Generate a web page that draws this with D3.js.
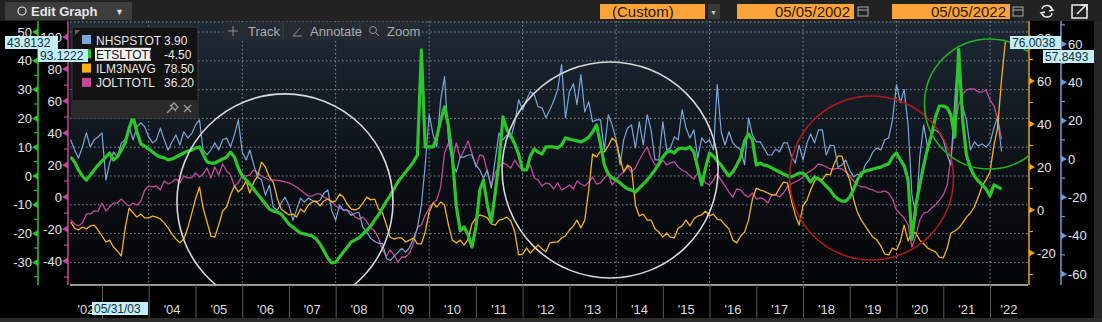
<!DOCTYPE html>
<html>
<head>
<meta charset="utf-8">
<script src="https://cdn.jsdelivr.net/npm/d3@7"></script>
<style>
  body { margin: 0; background: #000; overflow: hidden; }
  text { font-family: "Liberation Sans", Arial, sans-serif; }
</style>
</head>
<body>
<svg id="chart" width="1102" height="322"></svg>
<script>
// monthly series, first value = May 2002
const startMonth = new Date(2002, 4, 1);

const nhspstot = [
  10.0, 4.7, 0.5, 6.3, 13.6, 6.3, 10.0, 11.5, 13.6, -11.0,
  -2.1, 3.7, 1.0, 8.4, 10.0, 16.8, 10.0, 16.8, 18.9, 16.8,
  11.5, 8.4, 10.0, 16.2, 10.0, 4.7, 8.9, 12.6, 7.3, 14.2,
  11.0, 13.1, 17.8, 20.4, 4.7, 2.1, 4.7, 8.4, 4.7, 10.0,
  11.0, 6.3, 12.6, 20.4, 3.7, -0.5, 4.7, -3.1, -9.4, -11.0,
  -18.9, -13.6, -25.2, -26.7, -23.1, -19.9, -24.1, -32.0, -26.7, -20.4,
  -22.5, -20.4, -21.5, -22.5, -21.5, -17.8, -16.2, -26.7, -32.0, -24.1,
  -26.7, -26.7, -29.4, -28.3, -27.8, -35.6, -38.3, -41.4, -43.0, -44.0,
  -44.0, -51.9, -52.9, -50.8, -48.7, -46.6, -48.7, -46.1, -41.4, -36.2,
  -24.1, -3.1, 23.1, 12.6, 6.3, 30.9, 43.0, 10.0, -1.6, -6.8,
  1.0, 1.0, 2.1, 2.1, -3.1, -5.8, -10.0, -5.8, -15.2, -0.5,
  13.6, 10.0, 12.6, 11.0, 18.9, 30.9, 25.7, 30.9, 35.1, 33.5,
  27.3, 26.7, 21.5, 25.7, 30.4, 36.2, 49.3, 21.5, 35.1, 39.3,
  28.3, 44.0, 24.6, 29.9, 19.4, 20.4, 20.4, 4.7, 23.1, 17.8,
  10.0, -3.1, 10.0, 16.2, 17.8, 5.8, 19.4, 7.3, 23.1, 15.2,
  -0.5, -0.5, 19.4, 4.7, 5.8, 11.5, 10.0, 25.7, 16.2, 11.0,
  15.2, 0.5, 11.0, 8.4, 10.0, 4.7, 38.8, 14.2, 7.3, 14.2,
  8.4, 6.3, 4.7, -3.1, 21.5, 12.6, 8.9, 8.9, 5.8, 2.1,
  2.1, 5.2, 3.7, 8.4, 8.4, 1.6, -2.1, 7.3, -0.5, 8.4,
  13.1, 8.4, 15.2, 15.2, 2.1, 7.3, 6.8, -4.2, -3.1, -0.5,
  -5.8, -9.4, -7.9, -9.4, -3.1, -0.5, 3.7, 5.8, 4.7, 10.0,
  11.0, 20.4, 38.8, 29.4, 36.2, 17.8, -18.9, -29.4, 1.0, 17.8,
  5.8, 14.2, 15.2, 13.6, 10.0, 2.1, -3.1, 30.9, 57.8, 27.3,
  20.4, 4.7, 8.9, 6.8, 7.9, 6.3, 8.4, 16.2, 22.0, 3.9
];

const etsltotl = [
  6.6, 4.9, 2.1, 0, -1.4, 0.3, 2.1, 3.8, 5.2, 6.6,
  8.0, 5.6, 6.6, 9.0, 11.5, 16.7, 20.5, 15.3, 11.1, 10.4,
  9.4, 8.3, 7.3, 6.6, 6.3, 5.6, 5.9, 6.6, 7.3, 8.0,
  8.7, 9.0, 9.7, 10.1, 7.6, 4.9, 4.5, 4.5, 5.2, 5.9,
  6.6, 8.3, 6.6, 2.8, 0, -1.4, -2.8, -4.5, -6.3, -8.0,
  -9.7, -11.5, -12.2, -12.5, -13.2, -14.9, -16.7, -17.7, -18.8, -19.8,
  -20.1, -20.5, -20.8, -21.9, -23.6, -26.0, -28.5, -30.2, -29.9, -28.1,
  -26.4, -24.7, -22.9, -22.2, -21.5, -20.1, -18.8, -17.4, -15.3, -13.5,
  -11.1, -8.7, -6.9, -4.5, -2.1, -0.3, 1.4, 3.1, 4.9, 7.3,
  43.8, 10.1, 10.1, 10.1, 13.5, 19.4, 24.0, 17.4, 6.6, -10.4,
  -19.1, -17.7, -20.5, -24.7, -17.7, -4.9, -1.4, -10.1, -16.0, -5.9,
  4.9, 20.5, 16.0, 13.9, 11.1, 7.6, 2.1, 2.1, 6.9, 9.4,
  8.3, 7.6, 10.1, 10.1, 10.1, 9.7, 10.8, 13.2, 12.8, 12.5,
  12.2, 11.8, 12.5, 13.5, 15.3, 17.7, 11.1, 3.8, 0.7, -0.7,
  -1.4, -2.4, -3.5, -4.5, -4.9, -5.6, -4.2, -2.8, -1.4, 0.3,
  2.1, 4.2, 6.6, 8.3, 8.7, 8.0, 9.4, 9.7, 9.4, 10.1,
  8.3, 2.8, -3.1, 2.8, 8.0, 6.9, 5.2, 3.8, 1.7, 0,
  1.4, 3.8, 6.6, 12.2, 14.6, 12.5, 3.8, 4.5, 3.8, 3.5,
  2.8, 2.1, 1.4, 0.7, 0, -0.3, 0.3, 1.0, 1.0, -0.3,
  -2.1, -0.3, -1.0, -2.1, -3.5, -4.9, -6.9, -8.0, -8.7, -8.7,
  -7.3, -4.5, -1.4, 1.0, 1.7, 2.1, 2.4, 2.8, 3.1, 3.8,
  4.2, 6.6, 8.0, 5.6, 3.5, -1.4, -22.0, -10.0, -3.1, 3.8,
  9.7, 14.2, 20.5, 24.3, 24.3, 23.6, 21.2, 13.5, 44.0, 19.4,
  7.3, 2.8, 0, -1.7, -3.1, -4.5, -6.9, -3.1, -3.8, -4.5
];

const ilm3navg = [
  -5.6, -8.4, -9.3, -7.9, -8.8, -7.4, -7.0, -9.3, -12.1, -14.9,
  -14.0, -17.2, -19.1, -21.4, -8.4, 0.9, -1.4, -3.3, -1.9, -3.7,
  -3.7, -2.8, -3.3, -4.2, -6.0, -8.4, -11.2, -13.5, -15.3, -13.5,
  -8.4, -1.9, 5.1, 10.7, 0.9, -5.6, -12.1, -12.6, -7.0, -0.5,
  1.4, 7.0, 11.2, 8.4, 10.2, 13.5, 7.9, 13.0, 15.8, 22.3,
  20.0, 15.3, 13.0, 5.6, 0.5, -0.9, -2.3, -1.9, -3.3, 0.5,
  -0.9, 2.3, 3.7, 4.2, 1.9, 4.2, 5.1, 3.7, 4.2, 7.4,
  6.0, 2.8, 0.5, 0, 0.9, 3.3, 6.0, 4.7, 5.1, 0.5,
  -1.4, -7.0, -12.6, -13.5, -13.0, -13.0, -14.9, -14.0, -13.0, -15.8,
  -15.8, -10.2, -0.9, 3.3, 1.4, 3.7, 2.3, -7.0, -14.0, -15.3,
  -14.0, -16.3, -13.5, -6.5, -3.7, -2.3, -2.8, -3.7, -6.5, -7.0,
  -4.7, -4.2, -3.3, -5.1, -10.2, -20.9, -20.5, -17.7, -20.0, -18.1,
  -16.3, -18.1, -19.5, -15.3, -14.9, -14.9, -13.0, -12.1, -9.3, -7.4,
  -4.7, -8.4, -4.7, 9.3, 26.0, 24.7, 27.4, 27.0, 29.8, 33.5,
  31.6, 24.2, 17.7, 20.9, 19.5, 2.3, -2.8, -1.9, -4.7, -4.7,
  -8.8, -10.2, -12.6, -10.7, -12.6, -13.0, -8.4, -7.4, -4.7, -7.4,
  -4.2, -2.8, -2.3, -0.5, -2.8, -1.9, -4.2, -4.7, -7.0, -8.8,
  -14.0, -15.3, -12.1, -10.2, -4.7, 5.1, 10.2, 9.3, 8.8, 7.9,
  7.0, 7.0, 10.2, 13.0, 12.6, 4.7, -2.3, -7.0, 1.9, 4.7,
  9.3, 13.5, 14.9, 14.0, 16.7, 16.3, 21.4, 25.1, 25.1, 18.6,
  14.0, 4.7, -0.9, -4.7, -7.4, -10.2, -12.6, -14.0, -16.7, -20.5,
  -20.9, -17.7, -18.6, -14.4, -7.0, -14.4, -10.2, -10.7, -14.0, -15.8,
  -17.7, -18.6, -19.5, -21.9, -22.3, -17.7, -10.7, -9.8, -8.4, -6.0,
  -3.3, -1.4, 1.4, 6.0, 11.2, 14.0, 17.7, 30.2, 38.1, 60.5,
  78.5
];

const jolttotl = [
  -14.4, -16.9, -18.1, -16.3, -10.6, -10.6, -8.8, -8.8, -3.8, -8.8,
  -6.3, -3.8, -3.8, -1.3, -3.8, -5.6, -3.8, -5.0, -2.5, 4.4,
  6.9, 6.3, 6.9, 4.4, 10.0, 8.1, 9.4, 11.3, 8.8, 13.1,
  11.9, 11.9, 15.0, 12.5, 14.4, 18.1, 11.9, 18.8, 13.8, 20.6,
  16.3, 13.8, 6.9, 8.8, 13.8, 13.1, 13.8, 16.9, 15.0, 13.1,
  11.9, 10.6, 10.6, 10.6, 10.0, 9.4, 8.8, 7.5, 6.3, 4.4,
  2.5, 0.6, 0.6, 1.9, 1.9, 0, -1.3, -2.5, -5.6, -6.9,
  -8.1, -8.1, -9.4, -12.5, -13.8, -12.5, -15.6, -19.4, -21.3, -25.6,
  -33.1, -36.9, -33.1, -36.3, -40.6, -37.5, -37.5, -35.0, -28.8, -18.8,
  -17.5, -11.3, -6.9, -3.8, -1.9, 6.3, 27.5, 33.8, 23.1, 33.8,
  24.4, 29.4, 35.0, 27.5, 18.8, 26.3, 25.6, 15.6, 6.9, 15.0,
  18.8, 21.3, 20.0, 18.1, 23.1, 19.4, 16.9, 16.9, 20.0, 11.9,
  10.6, 6.9, 8.8, 8.1, 5.0, 8.8, 4.4, 5.6, 7.5, 5.0,
  10.0, 8.1, 6.9, 9.4, 12.5, 8.1, 8.8, 11.9, 14.4, 7.5,
  10.6, 13.8, 15.6, 18.8, 15.6, 18.1, 23.1, 27.5, 31.3, 24.4,
  20.0, 19.4, 23.1, 20.0, 21.3, 21.9, 18.8, 16.9, 15.6, 13.1,
  11.3, 15.0, 13.1, 8.8, 7.5, 10.6, 14.4, 10.6, 6.9, 3.1,
  0, 5.0, 4.4, 1.3, 0, 2.5, -1.3, -0.6, -1.3, -3.8,
  1.3, 1.3, 0, 2.5, 6.3, 8.1, 9.4, 10.6, 12.5, 15.0,
  16.3, 18.1, 20.6, 20.0, 18.8, 17.5, 17.5, 18.1, 17.5, 15.6,
  13.1, 10.0, 7.5, 6.3, 6.3, 5.0, 4.4, 3.1, 3.1, 3.8,
  2.5, -1.3, -8.1, -10.6, -13.1, -17.5, -31.3, -24.4, -14.4, -10.0,
  -9.4, -6.9, -5.0, -1.9, 1.3, 7.5, 24.4, 45.0, 57.5, 64.4,
  66.9, 67.5, 67.5, 65.6, 65.6, 66.9, 60.6, 56.9, 49.4, 36.2
];

const legendNames = ["NHSPSTOT", "ETSLTOTL", "ILM3NAVG", "JOLTTOTL"];
const legendValues = ["3.90", "-4.50", "78.50", "36.20"];
const legendColors = ["#7ba6da", "#2cc52c", "#f5b21c", "#c6489a"];

const greenTicks = [-30, -20, -10, 0, 10, 20, 30, 40, 50];
const pinkTicks = [-40, -20, 0, 20, 40, 60, 80, 100];
const orangeTicks = [-20, 0, 20, 40, 60, 80];
const blueTicks = [-60, -40, -20, 0, 20, 40, 60];
const yearTicks = d3.range(2003, 2023);

// annotation circles: centre date, value on the left (green) axis, radius in px
const circles = [
  { date: new Date(2006, 11, 1), v: -9.0, r: 108, color: "#d8d8d8" },
  { date: new Date(2013, 10, 15), v: 2.1, r: 108, color: "#d8d8d8" },
  { date: new Date(2019, 5, 20), v: -0.7, r: 82, color: "#b3171a" },
  { date: new Date(2021, 11, 28), v: 25.0, r: 65, color: "#22b322" }
];

const svg = d3.select("#chart");
const plot = { left: 70, right: 1028, top: 21, bottom: 285 };

const x = d3.scaleTime()
  .domain([new Date(2003, 0, 1), new Date(2022, 0, 1)])
  .range([102, 990]);
const yGreen = d3.scaleLinear().domain([-30, 50]).range([262.4, 32]);
const yPink = d3.scaleLinear().domain([-40, 100]).range([261, 37]);
const yOrange = d3.scaleLinear().domain([-20, 80]).range([253, 38]);
const yBlue = d3.scaleLinear().domain([-60, 60]).range([274, 44]);

const defs = svg.append("defs");
const grad = defs.append("linearGradient").attr("id", "bg").attr("x1", 0).attr("x2", 0).attr("y1", 0).attr("y2", 1);
grad.append("stop").attr("offset", "0%").attr("stop-color", "#1e2a36");
grad.append("stop").attr("offset", "55%").attr("stop-color", "#0c1117");
grad.append("stop").attr("offset", "100%").attr("stop-color", "#020304");
defs.append("clipPath").attr("id", "clip").append("rect")
  .attr("x", plot.left).attr("y", plot.top)
  .attr("width", plot.right - plot.left).attr("height", plot.bottom - plot.top);

// page background
svg.append("rect").attr("width", 1102).attr("height", 322).attr("fill", "#000");
svg.append("rect").attr("x", 0).attr("y", 318).attr("width", 1102).attr("height", 4).attr("fill", "#2c2c2c");
svg.append("rect").attr("x", 1094).attr("y", 21).attr("width", 8).attr("height", 297).attr("fill", "#262626");

// plot background
svg.append("rect")
  .attr("x", plot.left).attr("y", plot.top)
  .attr("width", plot.right - plot.left).attr("height", plot.bottom - plot.top)
  .attr("fill", "url(#bg)");

// grid
const grid = svg.append("g").attr("stroke", "#8a8f96").attr("stroke-dasharray", "1.5,2.5").attr("stroke-width", 1);
grid.selectAll(".h").data(greenTicks).join("line")
  .attr("x1", plot.left).attr("x2", plot.right)
  .attr("y1", d => yGreen(d)).attr("y2", d => yGreen(d));
grid.append("line").attr("x1", plot.left).attr("x2", plot.right).attr("y1", 22).attr("y2", 22);
grid.selectAll(".v").data(d3.range(2004, 2023, 2)).join("line")
  .attr("x1", d => x(new Date(d, 0, 1))).attr("x2", d => x(new Date(d, 0, 1)))
  .attr("y1", plot.top).attr("y2", plot.bottom);

// series
const months = n => d3.range(n).map(i => d3.timeMonth.offset(startMonth, i));
const series = [
  { values: jolttotl, y: yPink, color: "#c6489a", w: 1.3 },
  { values: nhspstot, y: yBlue, color: "#7ba6da", w: 1.2 },
  { values: ilm3navg, y: yOrange, color: "#f5b21c", w: 1.3 },
  { values: etsltotl, y: yGreen, color: "#2cc52c", w: 3.2 }
];
const lines = svg.append("g").attr("clip-path", "url(#clip)");
series.forEach(s => {
  const dates = months(s.values.length);
  const line = d3.line().x((d, i) => x(dates[i])).y(d => s.y(d));
  lines.append("path").datum(s.values)
    .attr("d", line).attr("fill", "none")
    .attr("stroke", s.color).attr("stroke-width", s.w)
    .attr("stroke-linejoin", "round");
});

// circles
lines.selectAll(".circ").data(circles).join("circle")
  .attr("cx", d => x(d.date)).attr("cy", d => yGreen(d.v)).attr("r", d => d.r)
  .attr("fill", "none").attr("stroke", d => d.color).attr("stroke-width", 1.6);

// x axis
svg.append("line").attr("x1", plot.left).attr("x2", plot.right)
  .attr("y1", plot.bottom).attr("y2", plot.bottom).attr("stroke", "#c8c8c8").attr("stroke-width", 1.5);
const xAxis = d3.axisBottom(x).tickValues(yearTicks.map(y => new Date(y, 0, 1)))
  .tickSize(33).tickFormat("");
const gx = svg.append("g").attr("transform", `translate(0,${plot.bottom})`).call(xAxis);
gx.select(".domain").remove();
gx.selectAll(".tick line").attr("stroke", "#5a5a5a");
const edges = [plot.left].concat(yearTicks.map(y => x(new Date(y, 0, 1))), [plot.right]);
const labelYears = d3.range(2002, 2023);
svg.append("g").selectAll("text").data(labelYears).join("text")
  .attr("x", (d, i) => (edges[i] + edges[i + 1]) / 2)
  .attr("y", 314)
  .attr("text-anchor", "middle").attr("font-size", 13).attr("fill", "#dcdcdc")
  .text(d => d === 2003 ? "" : "'" + String(d).slice(2));

// y axes
function yAxis(scale, xPos, side, color, majors, minorStep, pad) {
  const g = svg.append("g").attr("transform", `translate(${xPos},0)`);
  const ax = (side === "left" ? d3.axisLeft(scale) : d3.axisRight(scale))
    .tickValues(majors).tickSize(0).tickPadding(pad).tickFormat(d => String(d));
  g.call(ax);
  g.select(".domain").remove();
  g.selectAll(".tick text").attr("fill", "#e4e4e4").attr("font-size", 13)
    .style("font-family", "'Liberation Sans', Arial, sans-serif");
  g.append("line").attr("y1", plot.top).attr("y2", plot.bottom)
    .attr("stroke", color).attr("stroke-width", 1.5);
  const s = side === "left" ? -1 : 1;
  const dom = scale.domain();
  const minors = d3.range(Math.ceil((dom[0] - minorStep) / minorStep) * minorStep, dom[1] + minorStep * 1.5, minorStep)
    .filter(v => !majors.includes(v) && scale(v) > plot.top + 2 && scale(v) < plot.bottom - 2);
  g.selectAll(".minor").data(minors).join("line")
    .attr("x1", 0).attr("x2", 4 * s).attr("y1", d => scale(d)).attr("y2", d => scale(d))
    .attr("stroke", color).attr("stroke-width", 1.2);
  g.selectAll(".tri").data(majors).join("path")
    .attr("d", d => `M0,${scale(d) - 3.5}L${6 * s},${scale(d)}L0,${scale(d) + 3.5}Z`)
    .attr("fill", color);
}
yAxis(yGreen, 38, "left", "#2cc52c", greenTicks, 5, 6);
yAxis(yPink, 68, "left", "#c6489a", pinkTicks, 10, 6);
yAxis(yOrange, 1029, "right", "#e8a31a", orangeTicks, 10, 8);
yAxis(yBlue, 1061, "right", "#6d9ad0", blueTicks, 10, 7);

// legend
const lg = svg.append("g");
lg.append("rect").attr("x", 72).attr("y", 27).attr("width", 126).attr("height", 91)
  .attr("fill", "#121212").attr("stroke", "#3c3c3c");
lg.append("rect").attr("x", 72.5).attr("y", 100).attr("width", 125).attr("height", 17.5).attr("fill", "#2a2a2a");
lg.append("path").attr("d", "M75,30L80,30L75,35Z").attr("fill", "#666");
legendNames.forEach((n, i) => {
  const yy = 40 + i * 14.3;
  lg.append("rect").attr("x", 82).attr("y", yy - 5).attr("width", 9).attr("height", 9).attr("fill", legendColors[i]);
  if (i === 1) lg.append("rect").attr("x", 95).attr("y", yy - 6.5).attr("width", 56).attr("height", 13).attr("fill", "#f4f4f4");
  lg.append("text").attr("x", 96).attr("y", yy + 4.5).attr("font-size", 12)
    .attr("fill", i === 1 ? "#111" : "#e8e8e8").text(n);
  lg.append("text").attr("x", 164).attr("y", yy + 4.5).attr("font-size", 12).attr("fill", "#e8e8e8").text(legendValues[i]);
});
lg.append("path").attr("d", "M167,113L172,108M170,105L176,111M171,106L174,103L178,107L175,110")
  .attr("stroke", "#9a9a9a").attr("fill", "none").attr("stroke-width", 1.3);
lg.append("path").attr("d", "M184,105L191,112M191,105L184,112").attr("stroke", "#9a9a9a").attr("stroke-width", 1.3);

// value tags (drawn on top of axes and legend)
function tag(x0, y0, w, txt) {
  const g = svg.append("g");
  g.append("rect").attr("x", x0).attr("y", y0).attr("width", w).attr("height", 13).attr("fill", "#c4eef8");
  g.append("text").attr("x", x0 + 2).attr("y", y0 + 10.5).attr("font-size", 12).attr("fill", "#12303c").text(txt);
}
tag(5, 36, 53, "43.8132");
tag(38, 49, 50, "93.1222");
tag(1010, 36, 51, "76.0038");
tag(1043, 50, 51, "57.8493");
tag(92, 302, 56, "05/31/03");

// toolbar
const tb = svg.append("g");
tb.append("rect").attr("width", 1102).attr("height", 21).attr("fill", "#222");
tb.append("rect").attr("x", 5).attr("y", 2).attr("width", 127).attr("height", 18).attr("fill", "#3d3d3d");
tb.append("circle").attr("cx", 22).attr("cy", 11).attr("r", 4).attr("fill", "none").attr("stroke", "#ddd").attr("stroke-width", 1.2);
tb.append("text").attr("x", 31).attr("y", 16).attr("font-size", 13).attr("font-weight", "bold").attr("fill", "#e6e6e6").text("Edit Graph");
tb.append("text").attr("x", 115).attr("y", 15).attr("font-size", 9).attr("fill", "#ddd").text("▼");
const orange = "#fba43a";
tb.append("rect").attr("x", 600).attr("y", 4).attr("width", 105).attr("height", 15).attr("fill", orange);
tb.append("text").attr("x", 612).attr("y", 17).attr("font-size", 15).attr("fill", "#2a1a00").text("(Custom)");
tb.append("rect").attr("x", 708).attr("y", 4).attr("width", 12).attr("height", 15).attr("fill", "#3a3a3a");
tb.append("text").attr("x", 710).attr("y", 15).attr("font-size", 7).attr("fill", "#ccc").text("▼");
tb.append("rect").attr("x", 737).attr("y", 4).attr("width", 117).attr("height", 15).attr("fill", orange);
tb.append("text").attr("x", 850).attr("y", 17).attr("text-anchor", "end").attr("font-size", 15).attr("fill", "#2a1a00").text("05/05/2002");
tb.append("rect").attr("x", 892).attr("y", 4).attr("width", 118).attr("height", 15).attr("fill", orange);
tb.append("text").attr("x", 1006).attr("y", 17).attr("text-anchor", "end").attr("font-size", 15).attr("fill", "#2a1a00").text("05/05/2022");
[858, 1013].forEach(cx => {
  tb.append("rect").attr("x", cx).attr("y", 7).attr("width", 10).attr("height", 9).attr("fill", "none").attr("stroke", "#aaa");
  tb.append("line").attr("x1", cx).attr("x2", cx + 10).attr("y1", 10).attr("y2", 10).attr("stroke", "#aaa");
});
tb.append("path").attr("d", "M1042,9A5,4 0 0 1 1052,10M1052,13A5,4 0 0 1 1042,13M1050,7L1053,10L1049,11M1044,16L1041,13L1045,12")
  .attr("fill", "none").attr("stroke", "#eee").attr("stroke-width", 1.5);
tb.append("rect").attr("x", 1072).attr("y", 5).attr("width", 15).attr("height", 13).attr("fill", "none").attr("stroke", "#eee").attr("stroke-width", 1.5);
tb.append("path").attr("d", "M1077,14L1086,5M1081,5L1087,5L1087,10").attr("fill", "none").attr("stroke", "#eee").attr("stroke-width", 1.5);

// track / annotate / zoom bar
const bar = svg.append("g");
bar.append("rect").attr("x", 223).attr("y", 22).attr("width", 198).attr("height", 18).attr("fill", "#262b31");
[283, 360].forEach(sx => bar.append("line").attr("x1", sx).attr("x2", sx).attr("y1", 23).attr("y2", 39).attr("stroke", "#3d434a"));
bar.append("path").attr("d", "M233,26V36M228,31H238").attr("stroke", "#8c9096").attr("stroke-width", 1);
bar.append("path").attr("d", "M293,36H302M293,36L300,28").attr("stroke", "#8c9096").attr("fill", "none");
bar.append("circle").attr("cx", 373).attr("cy", 30).attr("r", 3.5).attr("fill", "none").attr("stroke", "#8c9096");
bar.append("line").attr("x1", 375.5).attr("y1", 32.5).attr("x2", 379).attr("y2", 36).attr("stroke", "#8c9096");
bar.append("text").attr("x", 248).attr("y", 36).attr("font-size", 13).attr("fill", "#a9adb3").text("Track");
bar.append("text").attr("x", 310).attr("y", 36).attr("font-size", 13).attr("fill", "#a9adb3").text("Annotate");
bar.append("text").attr("x", 387).attr("y", 36).attr("font-size", 13).attr("fill", "#a9adb3").text("Zoom");
</script>
</body>
</html>
